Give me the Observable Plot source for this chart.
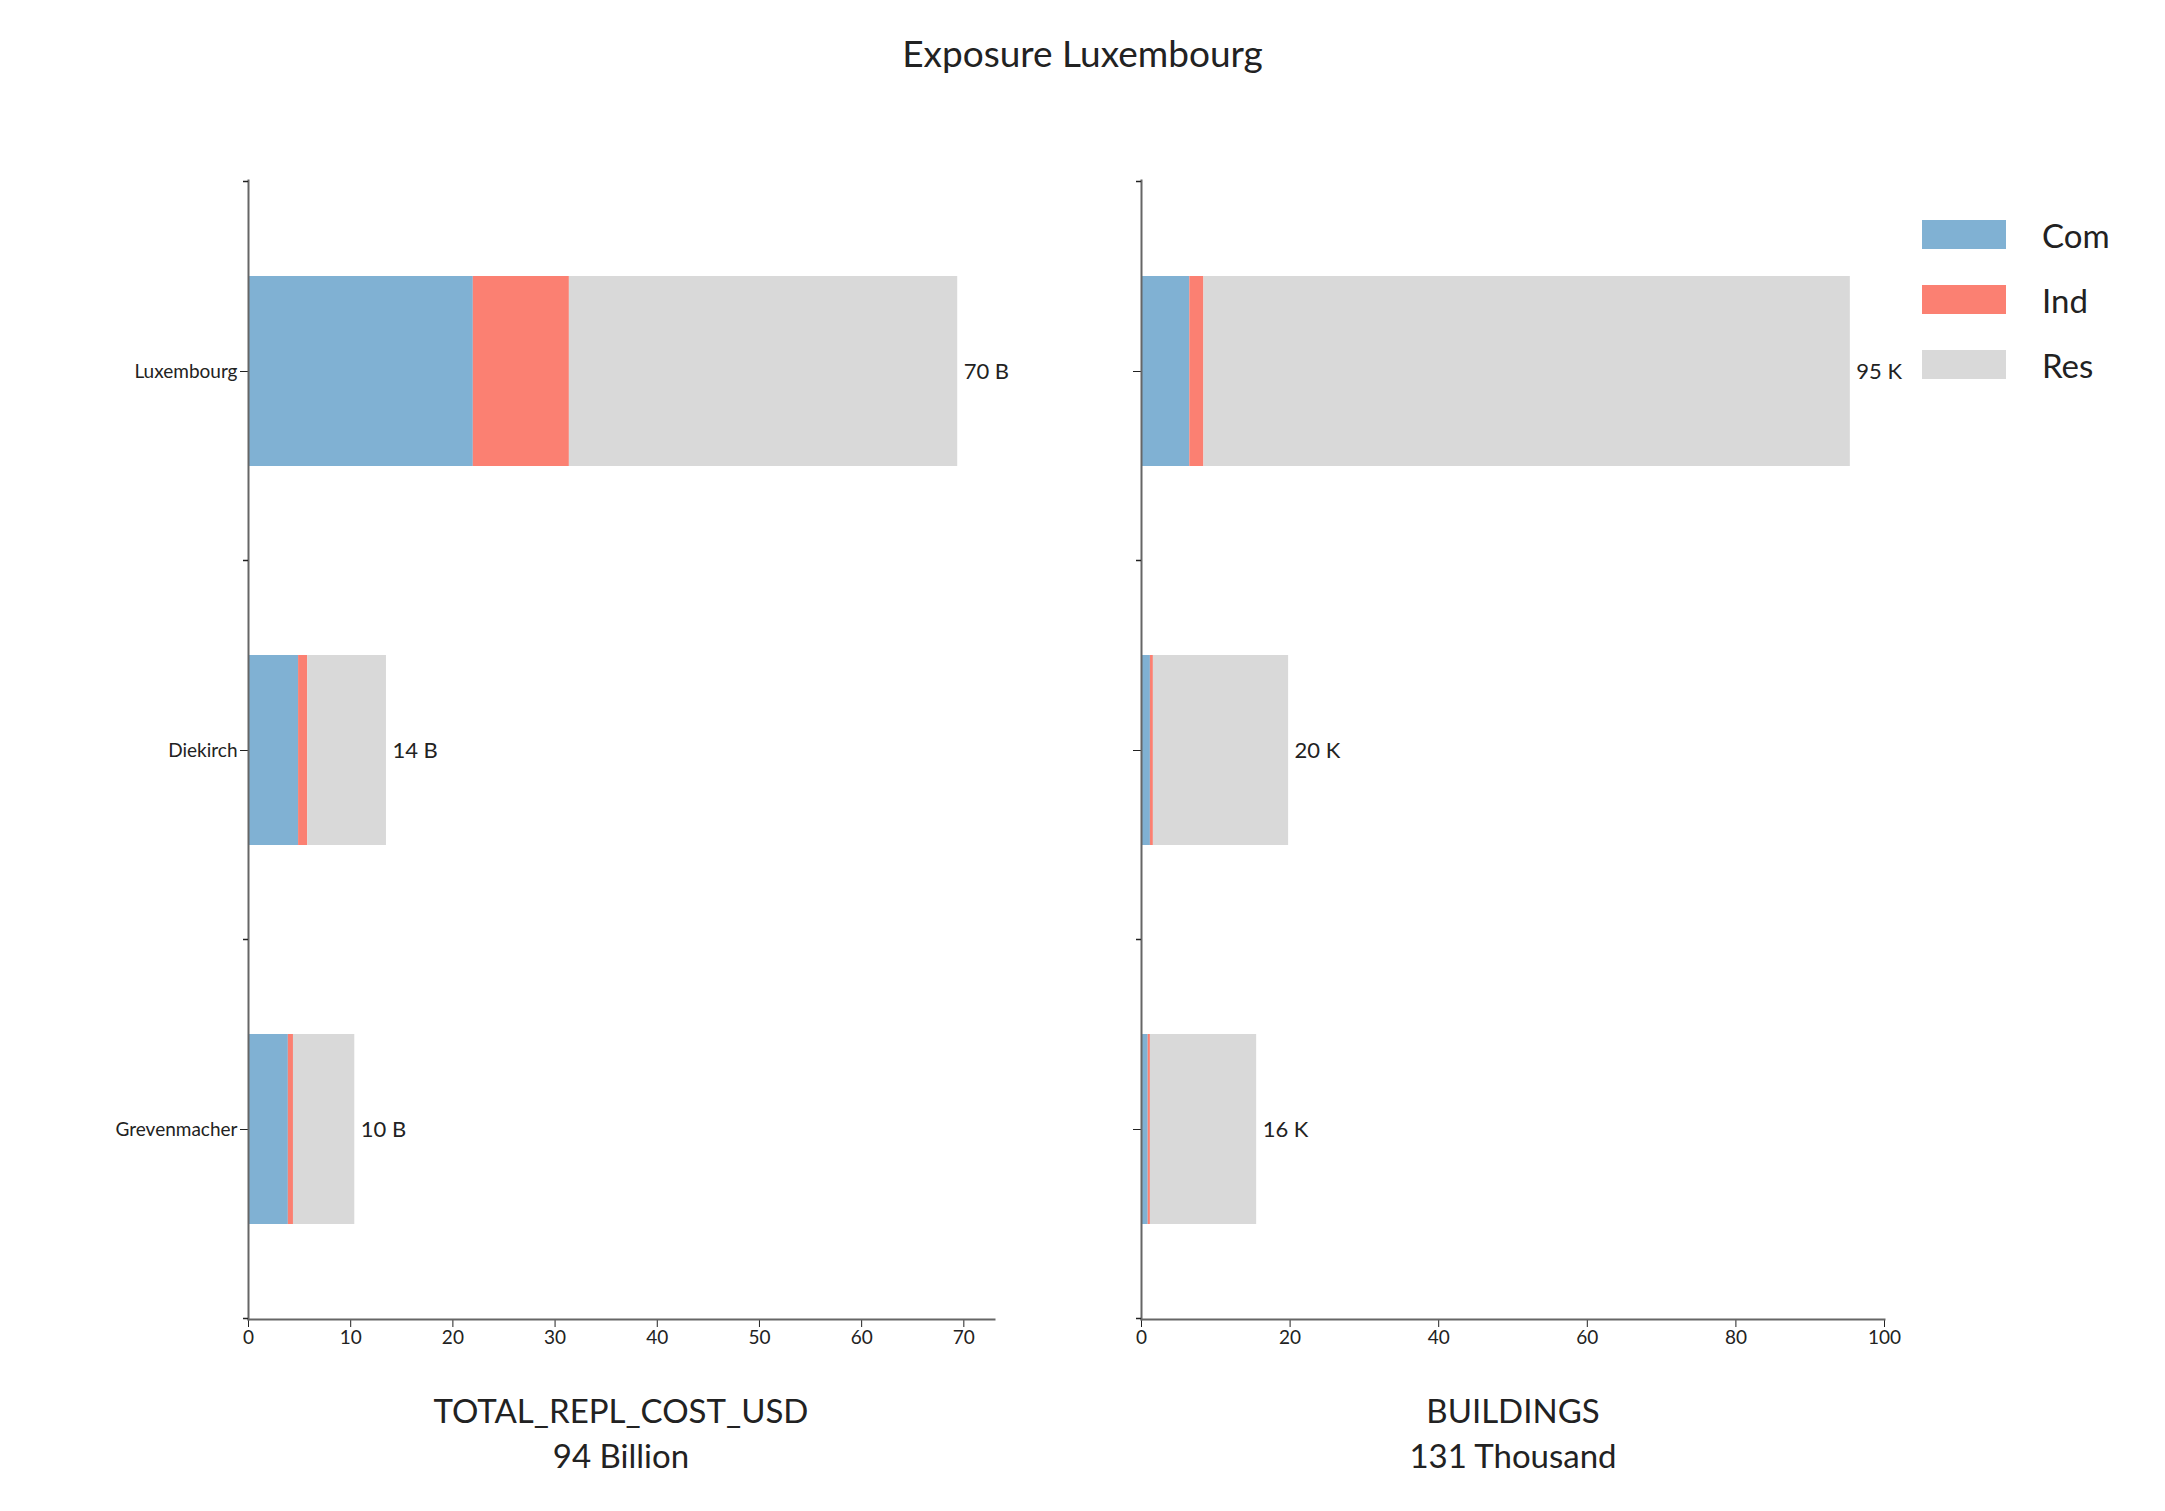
<!DOCTYPE html>
<html><head><meta charset="utf-8">
<script src="https://cdn.jsdelivr.net/npm/d3@7"></script>
<script src="https://cdn.jsdelivr.net/npm/@observablehq/plot@0.6"></script>
<style>
body{margin:0;background:#fff;font-family:Lato,"Open Sans",sans-serif;color:#222}
#wrap{position:relative;width:2165px;height:1511px}
.abs{position:absolute}
.lab{position:absolute;width:700px;text-align:center;font-size:33px;line-height:45px}
</style></head><body>
<div id="wrap">
  <div class="abs" style="left:0;width:2165px;top:30px;text-align:center;font-size:37px">Exposure Luxembourg</div>
  <div id="left" class="abs" style="left:0;top:150px"></div>
  <div id="right" class="abs" style="left:1100px;top:150px"></div>
  <div class="lab" style="left:271px;top:1388px">TOTAL_REPL_COST_USD<br>94 Billion</div>
  <div class="lab" style="left:1163px;top:1388px">BUILDINGS<br>131 Thousand</div>
  <div id="legend" class="abs" style="left:1922px;top:202px;font-size:33px"></div>
</div>
<script>
const regions = ["Luxembourg", "Diekirch", "Grevenmacher"]
const types = ["Com", "Ind", "Res"]
const colors = ["#80b1d3", "#fb8072", "#d9d9d9"]
// billions USD
const costCom = [22.0, 4.9, 3.9]
const costInd = [9.4, 0.9, 0.5]
const costRes = [38.0, 7.7, 6.0]
const costLabels = ["70 B", "14 B", "10 B"]
// thousands of buildings
const bldCom = [6.5, 1.2, 0.9]
const bldInd = [1.9, 0.4, 0.3]
const bldRes = [87.0, 18.2, 14.3]
const bldLabels = ["95 K", "20 K", "16 K"]

function rows(com, ind, res) {
  const out = []
  regions.forEach((r, i) => {
    out.push({region: r, type: "Com", v: com[i]})
    out.push({region: r, type: "Ind", v: ind[i]})
    out.push({region: r, type: "Res", v: res[i]})
  })
  return out
}
function totals(com, ind, res, labels) {
  return regions.map((r, i) => ({region: r, total: com[i] + ind[i] + res[i], label: labels[i]}))
}

function panel(data, tot, opts) {
  const chart = Plot.plot({
    width: opts.width, height: 1222,
    marginLeft: opts.marginLeft, marginRight: opts.marginRight, marginTop: 30, marginBottom: 53,
    style: {fontFamily: "Lato, sans-serif", fontSize: "19px", color: "#222"},
    x: {domain: opts.domain, ticks: opts.ticks, label: null, tickSize: 8},
    y: {domain: regions, paddingInner: 0.5, paddingOuter: 0.25, label: null, tickSize: 8,
        tickFormat: opts.showY ? d => d : () => ""},
    color: {domain: types, range: colors},
    marks: [
      Plot.barX(data, Plot.stackX({y: "region", x: "v", fill: "type", order: types})),
      Plot.text(tot, {y: "region", x: "total", text: "label", textAnchor: "start", dx: 6, fontSize: 22, fill: "#222"}),
      Plot.frame({anchor: "left", stroke: "#666", strokeWidth: 2}),
      Plot.frame({anchor: "bottom", stroke: "#666", strokeWidth: 2})
    ]
  })
  // minor ticks on band boundaries
  const y = chart.scale("y")
  const svg = d3.select(chart)
  const step = y.step
  const ys = regions.map(r => y.apply(r) + y.bandwidth / 2 - step / 2)
  ys.push(y.apply(regions[2]) + y.bandwidth / 2 + step / 2)
  ys.forEach(v => svg.append("line").attr("x1", opts.marginLeft - 5).attr("x2", opts.marginLeft)
    .attr("y1", v).attr("y2", v).attr("stroke", "#222").attr("stroke-width", 1.5))
  return chart
}

d3.select("#left").append(() => panel(rows(costCom, costInd, costRes), totals(costCom, costInd, costRes, costLabels),
  {width: 1014, marginLeft: 248, marginRight: 20, domain: [0, 73], ticks: d3.range(0, 71, 10), showY: true}))
d3.select("#right").append(() => panel(rows(bldCom, bldInd, bldRes), totals(bldCom, bldInd, bldRes, bldLabels),
  {width: 820, marginLeft: 41, marginRight: 36, domain: [0, 100], ticks: d3.range(0, 101, 20), showY: false}))

const lg = d3.select("#legend")
types.forEach((t, i) => {
  const row = lg.append("div").style("display", "flex").style("align-items", "center").style("height", "65px")
  row.append("div").style("width", "84px").style("height", "29px").style("background", colors[i]).style("margin-right", "36px")
  row.append("span").text(t)
})
</script>
</body></html>
